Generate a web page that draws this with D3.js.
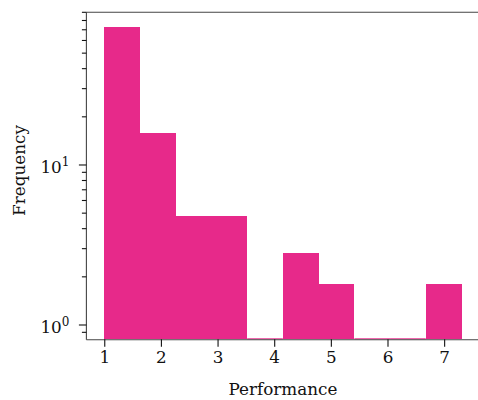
<!DOCTYPE html>
<html>
<head>
<meta charset="utf-8">
<script src="https://cdn.jsdelivr.net/npm/d3@7"></script>
<style>
  html, body { margin: 0; padding: 0; background: #fff; }
  svg { display: block; }
  text { font-family: "DejaVu Serif", serif; fill: #111; }
</style>
</head>
<body>
<svg id="chart" width="478" height="400"></svg>
<script>
// Histogram of performance scores (10 equal-width bins), log-scaled counts
const binEdges = [1.000, 1.631, 2.261, 2.892, 3.523, 4.153, 4.784, 5.415, 6.045, 6.676, 7.307];
const counts = [72.8, 15.8, 4.8, 4.8, 0, 2.8, 1.8, 0, 0, 1.8];
const xTickValues = [1, 2, 3, 4, 5, 6, 7];
const yMajorTicks = [1, 10];
const yTickBase = ["10", "10"];
const yTickExponent = ["0", "1"];
const xLabel = "Performance";
const yLabel = "Frequency";

const barColor = "#e7298a";
const axisColor = "#444";
const fontSize = 16.8;

const svg = d3.select("#chart");
const W = 478, H = 400;
const plot = { left: 86.4, right: 479.4, top: 12.3, bottom: 339.3 };

// x limits: data range plus 5% padding on each side
const span = binEdges[binEdges.length - 1] - binEdges[0];
const x = d3.scaleLinear()
  .domain([binEdges[0] - 0.05 * span, binEdges[binEdges.length - 1] + 0.05 * span])
  .range([plot.left, plot.right]);

const y = d3.scaleLog()
  .domain([0.814, 90])
  .range([plot.bottom, plot.top]);

const bins = counts.map((c, i) => ({ x0: binEdges[i], x1: binEdges[i + 1], c }));

// bars
svg.append("g")
  .selectAll("rect")
  .data(bins.filter(d => d.c > 0))
  .join("rect")
  .attr("x", d => x(d.x0))
  .attr("width", d => x(d.x1) - x(d.x0))
  .attr("y", d => y(Math.max(d.c, y.domain()[0])))
  .attr("height", d => plot.bottom - y(Math.max(d.c, y.domain()[0])))
  .attr("fill", barColor)
  .attr("shape-rendering", "crispEdges");

// empty bins collapse onto the baseline as a thin edge
svg.append("g")
  .selectAll("line")
  .data(bins.filter(d => d.c <= 0))
  .join("line")
  .attr("x1", d => x(d.x0))
  .attr("x2", d => x(d.x1))
  .attr("y1", plot.bottom - 0.5)
  .attr("y2", plot.bottom - 0.5)
  .attr("stroke", barColor)
  .attr("stroke-width", 1);

// spines (left, top, bottom)
const spines = svg.append("g").attr("stroke", axisColor).attr("stroke-width", 1.1).attr("fill", "none");
spines.append("line").attr("x1", plot.left).attr("x2", plot.left).attr("y1", plot.top).attr("y2", plot.bottom + 0.4);
spines.append("line").attr("x1", plot.left).attr("x2", W).attr("y1", plot.top).attr("y2", plot.top);
spines.append("line").attr("x1", plot.left).attr("x2", W).attr("y1", plot.bottom + 0.4).attr("y2", plot.bottom + 0.4);

// x axis ticks and labels
const xAxis = svg.append("g")
  .attr("transform", `translate(0,${plot.bottom})`)
  .call(d3.axisBottom(x).tickValues(xTickValues).tickFormat(d3.format("d")).tickSizeInner(7.5).tickSizeOuter(0).tickPadding(4));
xAxis.select(".domain").remove();
xAxis.selectAll(".tick line").attr("stroke", "#111").attr("stroke-width", 1.1);
xAxis.selectAll(".tick text")
  .style("font-family", '"DejaVu Serif", serif')
  .style("font-size", fontSize + "px")
  .attr("fill", "#111");

// y axis ticks: majors at powers of ten, minors between
const allY = y.ticks();
const isMajor = v => yMajorTicks.some(m => Math.abs(m - v) < 1e-9);
const yTicks = svg.append("g");
yTicks.selectAll("line")
  .data(allY)
  .join("line")
  .attr("x1", d => plot.left - (isMajor(d) ? 7.5 : 4.5))
  .attr("x2", plot.left)
  .attr("y1", d => y(d))
  .attr("y2", d => y(d))
  .attr("stroke", "#111")
  .attr("stroke-width", 1.1);

const yLab = yTicks.selectAll("text.ylab")
  .data(yMajorTicks)
  .join("text")
  .attr("class", "ylab")
  .attr("x", plot.left - 17)
  .attr("y", d => y(d) + 8)
  .attr("text-anchor", "end")
  .style("font-size", fontSize + "px");
yLab.append("tspan").text((d, i) => yTickBase[i]);
yLab.append("tspan")
  .attr("dy", -7)
  .style("font-size", "12px")
  .text((d, i) => yTickExponent[i]);

// axis titles
svg.append("text")
  .attr("x", (plot.left + plot.right) / 2)
  .attr("y", 394.5)
  .attr("text-anchor", "middle")
  .style("font-size", fontSize + "px")
  .text(xLabel);

svg.append("text")
  .attr("transform", `translate(25,170.5) rotate(-90)`)
  .attr("text-anchor", "middle")
  .style("font-size", fontSize + "px")
  .text(yLabel);
</script>
</body>
</html>
